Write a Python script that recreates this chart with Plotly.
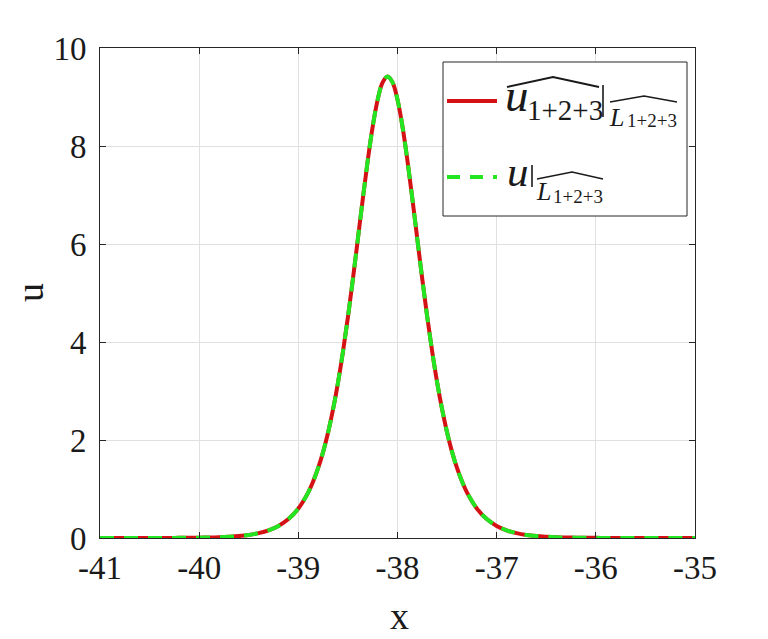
import plotly.graph_objects as go

# ---- data ----
x_vals = [-41.0, -40.9, -40.8, -40.7, -40.6, -40.5, -40.4, -40.3, -40.2, -40.1,
          -40.0, -39.9, -39.8, -39.7, -39.6, -39.5, -39.4, -39.3, -39.2, -39.1,
          -39.0, -38.9, -38.85, -38.8, -38.75, -38.7, -38.65, -38.6, -38.55, -38.5,
          -38.45, -38.4, -38.35, -38.3, -38.25, -38.2, -38.15, -38.1, -38.05, -38.0,
          -37.95, -37.9, -37.85, -37.8, -37.75, -37.7, -37.65, -37.6, -37.55, -37.5,
          -37.45, -37.4, -37.35, -37.3, -37.2, -37.1, -37.0, -36.9, -36.8, -36.7,
          -36.6, -36.5, -36.4, -36.3, -36.2, -36.1, -36.0, -35.9, -35.8, -35.7,
          -35.6, -35.5, -35.4, -35.3, -35.2, -35.1, -35.0]

u_num = [0.000, 0.000, 0.000, 0.000, 0.000, 0.001, 0.001, 0.002, 0.003, 0.004,
         0.007, 0.010, 0.016, 0.026, 0.040, 0.063, 0.100, 0.157, 0.247, 0.386,
         0.602, 0.932, 1.156, 1.429, 1.758, 2.154, 2.623, 3.172, 3.801, 4.508,
         5.280, 6.098, 6.918, 7.704, 8.400, 8.947, 9.299, 9.420, 9.299, 8.947,
         8.400, 7.704, 6.918, 6.098, 5.280, 4.508, 3.801, 3.172, 2.623, 2.154,
         1.758, 1.429, 1.156, 0.932, 0.602, 0.386, 0.247, 0.157, 0.100, 0.063,
         0.040, 0.026, 0.016, 0.010, 0.007, 0.004, 0.003, 0.002, 0.001, 0.001,
         0.000, 0.000, 0.000, 0.000, 0.000, 0.000, 0.000]

u_exact = [0.000, 0.000, 0.000, 0.000, 0.000, 0.001, 0.001, 0.002, 0.003, 0.004,
           0.007, 0.010, 0.016, 0.026, 0.040, 0.063, 0.100, 0.157, 0.247, 0.386,
           0.602, 0.932, 1.156, 1.429, 1.758, 2.154, 2.623, 3.172, 3.801, 4.508,
           5.280, 6.098, 6.918, 7.704, 8.400, 8.947, 9.299, 9.420, 9.299, 8.947,
           8.400, 7.704, 6.918, 6.098, 5.280, 4.508, 3.801, 3.172, 2.623, 2.154,
           1.758, 1.429, 1.156, 0.932, 0.602, 0.386, 0.247, 0.157, 0.100, 0.063,
           0.040, 0.026, 0.016, 0.010, 0.007, 0.004, 0.003, 0.002, 0.001, 0.001,
           0.000, 0.000, 0.000, 0.000, 0.000, 0.000, 0.000]

x_ticks = [-41, -40, -39, -38, -37, -36, -35]
x_tick_text = ["-41", "-40", "-39", "-38", "-37", "-36", "-35"]
y_ticks = [0, 2, 4, 6, 8, 10]
y_tick_text = ["0", "2", "4", "6", "8", "10"]

RED = "#d41216"
GREEN = "#22e622"
FONT = "Liberation Serif, Times New Roman, serif"
INK = "#1a1a1a"

# the page body adds an 8px offset, so the figure is 8px smaller and
# all screen-pixel positions below are converted with that offset
OFF = 8
W, H = 768 - OFF, 639 - OFF
ML, MR, MT, MB = 100 - OFF, 73, 48 - OFF, 101
PW = W - ML - MR
PH = H - MT - MB


def px(x):
    return (x - OFF - ML) / PW


def py(y):
    return (H - MB - (y - OFF)) / PH


fig = go.Figure()
fig.add_trace(go.Scatter(x=x_vals, y=u_num, mode="lines", line=dict(color=RED, width=4, shape="spline"),
                         cliponaxis=False, showlegend=False))
fig.add_trace(go.Scatter(x=x_vals, y=u_exact, mode="lines",
                         line=dict(color=GREEN, width=4, dash="14px,10px", shape="spline"),
                         cliponaxis=False, showlegend=False))

axis_common = dict(showline=True, linecolor="#262626", linewidth=1, mirror="ticks",
                   ticks="inside", ticklen=6, tickcolor="#262626", tickwidth=1,
                   showgrid=True, gridcolor="#e0e0e0", gridwidth=1, zeroline=False,
                   tickfont=dict(family=FONT, size=33, color=INK))

fig.update_layout(
    width=W, height=H,
    margin=dict(l=ML, r=MR, t=MT, b=MB),
    paper_bgcolor="white", plot_bgcolor="white",
    xaxis=dict(range=[-41, -35], tickvals=x_ticks, ticktext=x_tick_text, ticklabelstandoff=0, **axis_common),
    yaxis=dict(range=[0, 10], tickvals=y_ticks, ticktext=y_tick_text, ticklabelstandoff=6, **axis_common),
)

shapes = []
# legend box
shapes.append(dict(type="rect", xref="paper", yref="paper", x0=px(443), x1=px(687), y0=py(216), y1=py(62),
                   line=dict(color="#262626", width=1), fillcolor="white", layer="above"))
# legend samples
shapes.append(dict(type="line", xref="paper", yref="paper", x0=px(447), x1=px(497), y0=py(101), y1=py(101),
                   line=dict(color=RED, width=3.8), layer="above"))
shapes.append(dict(type="line", xref="paper", yref="paper", x0=px(447), x1=px(497), y0=py(177), y1=py(177),
                   line=dict(color=GREEN, width=3.8, dash="13px,10px"), layer="above"))


def hat(x0, xm, x1, ylow, yhigh, w=1.6):
    path = "M {:.5f},{:.5f} L {:.5f},{:.5f} L {:.5f},{:.5f}".format(
        px(x0), py(ylow), px(xm), py(yhigh), px(x1), py(ylow))
    return dict(type="path", xref="paper", yref="paper", path=path,
                line=dict(color=INK, width=w), layer="above")


def vbar(x, y0, y1):
    return dict(type="line", xref="paper", yref="paper", x0=px(x), x1=px(x), y0=py(y1), y1=py(y0),
                line=dict(color=INK, width=1.6), layer="above")


shapes.append(hat(507, 553, 599, 87, 77, 1.8))
shapes.append(vbar(603, 85, 117))
shapes.append(hat(610, 644, 677, 102, 96, 1.4))
shapes.append(vbar(532, 165, 187))
shapes.append(hat(537, 572, 603, 179, 172, 1.4))
fig.update_layout(shapes=shapes)


def txt(s, x, baseline, size, italic=False, anchor="left"):
    cy = baseline - 0.3375 * size
    return dict(text=("<i>%s</i>" % s) if italic else s, x=px(x), y=py(cy), xref="paper", yref="paper",
                xanchor=anchor, yanchor="middle", showarrow=False, borderpad=0, borderwidth=0,
                font=dict(family=FONT, size=size, color=INK))


annotations = [
    txt("u", 505, 111, 47, italic=True),
    txt("1+2+3", 527, 120, 29),
    txt("L", 609, 126, 26, italic=True),
    txt("1+2+3", 627, 127, 19),
    txt("u", 507, 186, 43, italic=True),
    txt("L", 536, 200, 26, italic=True),
    txt("1+2+3", 553, 203, 19),
    # axis titles
    dict(text="x", x=px(399), y=py(616), xref="paper", yref="paper", xanchor="center", yanchor="middle",
         showarrow=False, font=dict(family=FONT, size=38, color=INK)),
    dict(text="u", x=px(30), y=py(293), xref="paper", yref="paper", xanchor="center", yanchor="middle",
         showarrow=False, textangle=-90, font=dict(family=FONT, size=38, color=INK)),
]
fig.update_layout(annotations=annotations)

fig.write_html("out.html")
